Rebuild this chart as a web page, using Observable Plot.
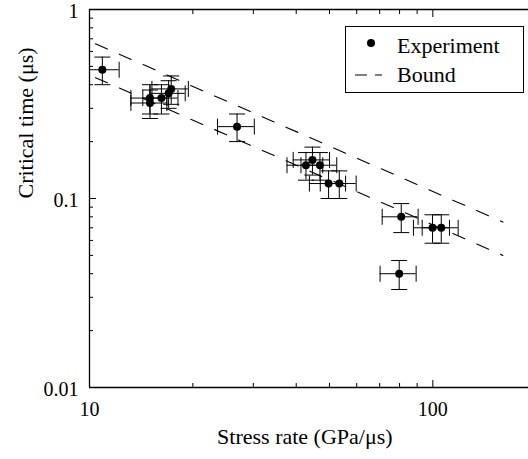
<!DOCTYPE html>
<html><head><meta charset="utf-8">
<script src="https://cdn.jsdelivr.net/npm/d3@7"></script>
<script src="https://cdn.jsdelivr.net/npm/@observablehq/plot@0.6"></script>
<style>
html,body{margin:0;padding:0;background:#fff;overflow:hidden}
#wrap{position:relative;width:528px;height:459px;overflow:hidden;font-family:"Liberation Serif","DejaVu Serif",serif}
#wrap svg.main{display:block;overflow:hidden}
#wrap svg, #wrap svg text{font-family:"Liberation Serif","DejaVu Serif",serif !important}
#legend{position:absolute;left:345px;top:26px;width:179px;height:67px;border:1px solid #000;box-sizing:border-box;background:#fff}
</style></head><body><div id="wrap"></div>
<script>
// Experimental points: stress rate (GPa/µs), critical time (µs) and their error half-widths
const stressRate   = [10.9, 15.0, 15.0, 16.2, 17.0, 17.3, 26.9, 42.7, 44.6, 46.9, 49.7, 53.4, 80.9, 79.8, 99.8, 105.8];
const criticalTime = [0.48, 0.34, 0.32, 0.34, 0.36, 0.38, 0.24, 0.15, 0.16, 0.15, 0.12, 0.12, 0.08, 0.04, 0.07, 0.07];
const rateErr      = [1.3, 1.8, 1.8, 1.9, 2.0, 2.1, 3.3, 5.1, 5.4, 5.6, 6.0, 6.4, 9.7, 9.6, 12.0, 12.7];
const timeErr      = [0.08, 0.06, 0.055, 0.06, 0.06, 0.065, 0.04, 0.025, 0.027, 0.025, 0.02, 0.02, 0.014, 0.007, 0.012, 0.012];
// Bound lines
const boundRate  = [10, 160];
const boundUpper = [0.68, 0.075];
const boundLower = [0.45, 0.050];
// Ticks
const xMajor = [10, 100];
const xMinor = [20, 30, 40, 50, 60, 70, 80, 90];
const yMajor = [0.01, 0.1, 1];
const yMinor = [0.02, 0.03, 0.04, 0.05, 0.06, 0.07, 0.08, 0.09, 0.2, 0.3, 0.4, 0.5, 0.6, 0.7, 0.8, 0.9];
const xLabel = "Stress rate (GPa/μs)";
const yLabel = "Critical time (μs)";
const seriesLabels = ["Experiment", "Bound"];

const pts = stressRate.map((x, i) => ({x, y: criticalTime[i], xe: rateErr[i], ye: timeErr[i]}));
const bounds = boundRate.map((x, i) => ({x, up: boundUpper[i], lo: boundLower[i]}));

const capH = {draw(ctx, size) { const r = Math.sqrt(size / Math.PI); ctx.moveTo(-r, 0); ctx.lineTo(r, 0); }};
const capV = {draw(ctx, size) { const r = Math.sqrt(size / Math.PI); ctx.moveTo(0, -r); ctx.lineTo(0, r); }};
const dash = {strokeDasharray: "13,13", strokeDashoffset: 19.5, stroke: "black", strokeWidth: 1.1};

const chart = Plot.plot({
  width: 528, height: 459,
  marginLeft: 89, marginRight: -7.7, marginTop: 9, marginBottom: 72,
  style: {fontSize: "20px", color: "black", background: "white"},
  x: {type: "log", domain: [10, 200]},
  y: {type: "log", domain: [0.01, 1]},
  marks: [
    Plot.line(bounds, {x: "x", y: "up", ...dash}),
    Plot.line(bounds, {x: "x", y: "lo", ...dash}),
    Plot.ruleY(pts, {y: "y", x1: d => d.x - d.xe, x2: d => d.x + d.xe, stroke: "black", strokeWidth: 1, clip: true}),
    Plot.ruleX(pts, {x: "x", y1: d => d.y - d.ye, y2: d => d.y + d.ye, stroke: "black", strokeWidth: 1, clip: true}),
    Plot.dot(pts, {x: d => d.x - d.xe, y: "y", symbol: capV, r: 8, stroke: "black", fill: "none", strokeWidth: 1, clip: true}),
    Plot.dot(pts, {x: d => d.x + d.xe, y: "y", symbol: capV, r: 8, stroke: "black", fill: "none", strokeWidth: 1, clip: true}),
    Plot.dot(pts, {x: "x", y: d => d.y - d.ye, symbol: capH, r: 8, stroke: "black", fill: "none", strokeWidth: 1, clip: true}),
    Plot.dot(pts, {x: "x", y: d => d.y + d.ye, symbol: capH, r: 8, stroke: "black", fill: "none", strokeWidth: 1, clip: true}),
    Plot.dot(pts, {x: "x", y: "y", r: 4, fill: "black", stroke: "none"}),
    // axes
    Plot.ruleX([10], {stroke: "black", strokeWidth: 1.3}),
    Plot.ruleY([1, 0.01], {stroke: "black", strokeWidth: 1.3}),
    Plot.axisX(xMajor, {anchor: "bottom", tickSize: -7, tickPadding: 21, tickFormat: d => String(d), label: null}),
    Plot.axisX(xMinor, {anchor: "bottom", tickSize: -4, tickFormat: () => "", label: null}),
    Plot.axisX(xMajor, {anchor: "top", tickSize: -7, tickFormat: () => "", label: null}),
    Plot.axisX(xMinor, {anchor: "top", tickSize: -4, tickFormat: () => "", label: null}),
    Plot.axisY(yMajor, {anchor: "left", tickSize: -7, tickFormat: () => "", label: null}),
    Plot.axisY(yMinor, {anchor: "left", tickSize: -4, tickFormat: () => "", label: null}),
    Plot.text(yMajor, {y: d => d, text: d => String(d), frameAnchor: "left", dx: -11, dy: 2, textAnchor: "end", fontSize: 20, fill: "black"}),
    Plot.text([yLabel], {text: d => d, frameAnchor: "left", dx: -64, rotate: -90, fontSize: 22, fill: "black"}),
    Plot.text([xLabel], {text: d => d, frameAnchor: "bottom", dx: -8, dy: 56, fontSize: 22, fill: "black"})
  ]
});
chart.classList.add("main");
const wrap = document.getElementById("wrap");
wrap.appendChild(chart);

// Legend
const leg = document.createElement("div");
leg.id = "legend";
leg.innerHTML = `<svg width="177" height="65" style="position:absolute;left:0;top:0;font-size:22px">
  <circle cx="25" cy="16" r="4" fill="black"></circle>
  <text x="51" y="26" fill="black">${seriesLabels[0]}</text>
  <line x1="9" y1="48" x2="36" y2="48" stroke="black" stroke-width="1.1" stroke-dasharray="12,8"></line>
  <text x="51" y="55" fill="black">${seriesLabels[1]}</text>
</svg>`;
wrap.appendChild(leg);
</script>
</body></html>
